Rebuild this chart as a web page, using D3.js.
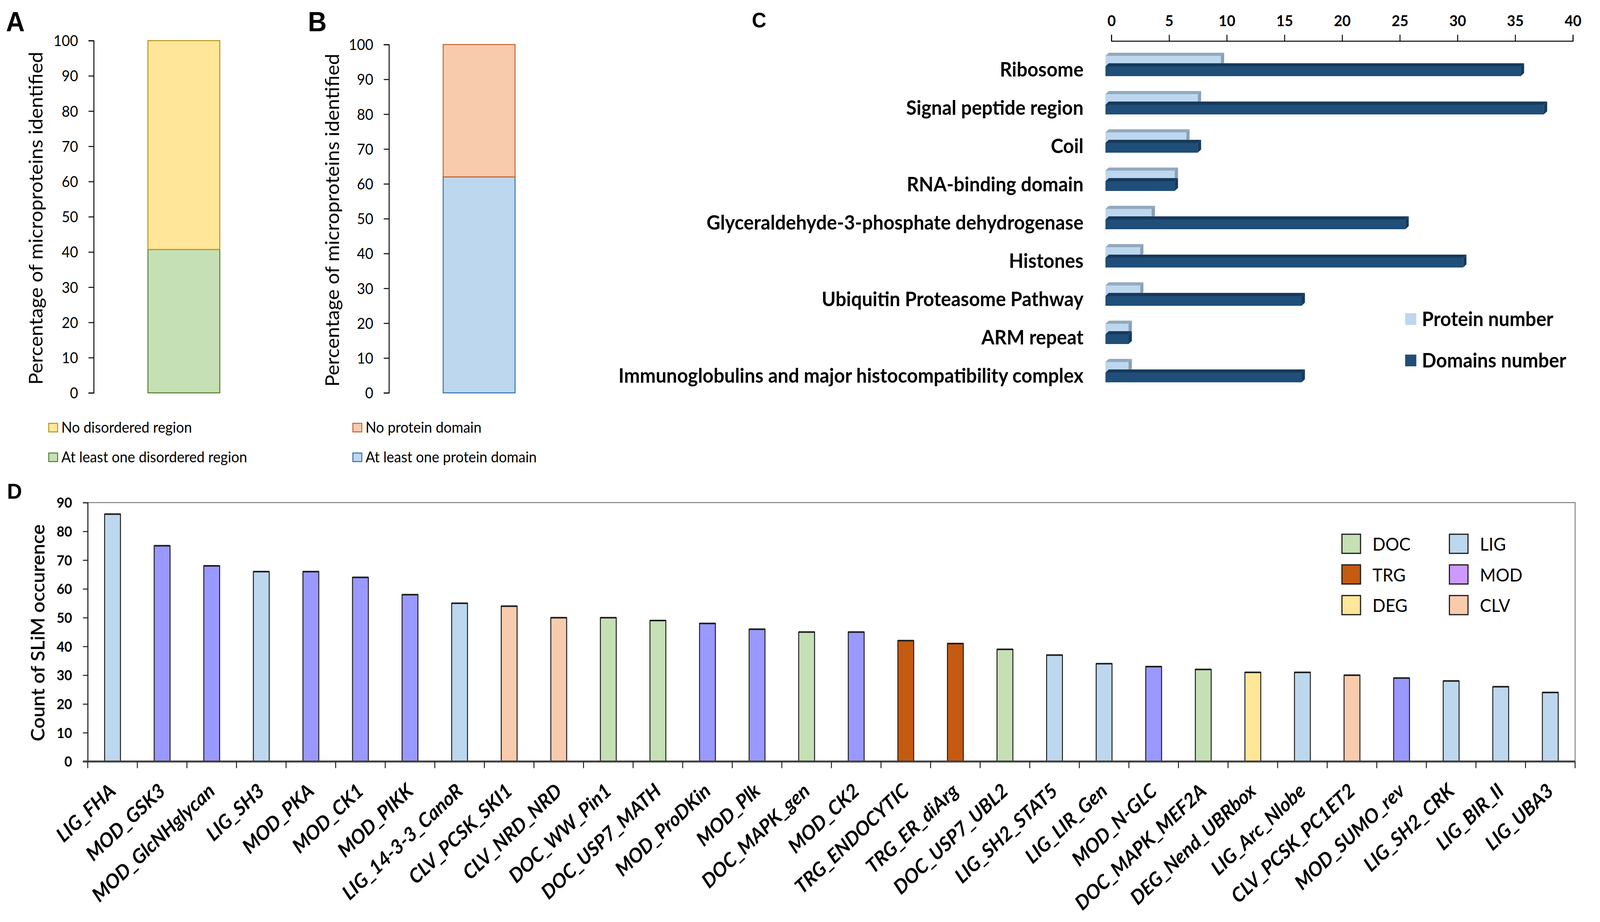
<!DOCTYPE html>
<html lang="en">
<head>
    <meta charset="UTF-8">
    <title>Microprotein features</title>
    <script src="https://d3js.org/d3.v7.min.js"></script>
    <style>
        html, body { margin: 0; background: #fff; overflow: hidden; }
        svg { display: block; width: 100vw; height: 100vh; }
        text { font-family: Lato, "Open Sans", sans-serif; fill: #000; }
        .panel-letter { font-family: "Liberation Sans", Arial, sans-serif; font-weight: bold; }
    </style>
</head>
<body>
    <svg></svg>
    <script>
        // ---- data ----
        // panel A: disordered regions (%)
        const disorderKeys = ["At least one disordered region", "No disordered region"];
        const disorderValues = [40.7, 59.3];
        // panel B: protein domains (%)
        const domainKeys = ["At least one protein domain", "No protein domain"];
        const domainValues = [62, 38];
        // panel C: domain families
        const familyNames = ["Ribosome", "Signal peptide region", "Coil", "RNA-binding domain",
            "Glyceraldehyde-3-phosphate dehydrogenase", "Histones", "Ubiquitin Proteasome Pathway",
            "ARM repeat", "Immunoglobulins and major histocompatibility complex"];
        const proteinNumber = [10, 8, 7, 6, 4, 3, 3, 2, 2];
        const domainsNumber = [36, 38, 8, 6, 26, 31, 17, 2, 17];
        const cTicks = [0, 5, 10, 15, 20, 25, 30, 35, 40];
        // panel D: SLiM occurrence
        const slimNames = ["LIG_FHA", "MOD_GSK3", "MOD_GlcNHglycan", "LIG_SH3", "MOD_PKA", "MOD_CK1",
            "MOD_PIKK", "LIG_14-3-3_CanoR", "CLV_PCSK_SKI1", "CLV_NRD_NRD", "DOC_WW_Pin1", "DOC_USP7_MATH",
            "MOD_ProDKin", "MOD_Plk", "DOC_MAPK_gen", "MOD_CK2", "TRG_ENDOCYTIC", "TRG_ER_diArg",
            "DOC_USP7_UBL2", "LIG_SH2_STAT5", "LIG_LIR_Gen", "MOD_N-GLC", "DOC_MAPK_MEF2A",
            "DEG_Nend_UBRbox", "LIG_Arc_Nlobe", "CLV_PCSK_PC1ET2", "MOD_SUMO_rev", "LIG_SH2_CRK",
            "LIG_BIR_II", "LIG_UBA3"];
        const slimCounts = [86, 75, 68, 66, 66, 64, 58, 55, 54, 50, 50, 49, 48, 46, 45, 45, 42, 41,
            39, 37, 34, 33, 32, 31, 31, 30, 29, 28, 26, 24];
        const dTicks = [0, 10, 20, 30, 40, 50, 60, 70, 80, 90];

        const W = 4303, H = 2361;
        // the window may be narrower than the figure, so the drawing is fitted to it
        const svg = d3.select("svg")
            .attr("viewBox", `0 0 ${W} ${H}`)
            .attr("preserveAspectRatio", "none");

        // panel letters
        const letters = [["A", 16, 80, 70], ["B", 828, 80, 70], ["C", 2022, 70, 54], ["D", 19, 1277, 56]];
        svg.selectAll("text.panel-letter").data(letters).join("text")
            .attr("class", "panel-letter")
            .attr("x", d => d[1]).attr("y", d => d[2])
            .style("font-size", d => d[3] + "px")
            .text(d => d[0]);

        // ---- stacked percentage bars (A and B) ----
        function stackPanel(opt) {
            const g = svg.append("g");
            const y = d3.scaleLinear().domain([0, 100]).range([1006, opt.top]);
            const x = d3.scaleBand().domain(["all"]).range([opt.axisX, opt.axisX + 485]).padding(0.43);

            const row = {};
            opt.keys.forEach((k, i) => row[k] = opt.values[i]);
            const series = d3.stack().keys(opt.keys)([row]);

            g.selectAll("rect.seg").data(series).join("rect")
                .attr("x", x("all"))
                .attr("width", x.bandwidth())
                .attr("y", d => y(d[0][1]))
                .attr("height", d => y(d[0][0]) - y(d[0][1]))
                .attr("fill", (d, i) => opt.fills[i])
                .attr("stroke", (d, i) => opt.strokes[i])
                .attr("stroke-width", 2.5);

            const axis = g.append("g")
                .attr("transform", `translate(${opt.axisX},0)`)
                .call(d3.axisLeft(y).tickValues(d3.range(0, 101, 10)).tickSize(14).tickPadding(28));
            axis.select(".domain").attr("stroke", "#000").attr("stroke-width", 2.5);
            axis.selectAll(".tick line").attr("stroke", "#000").attr("stroke-width", 2.5);
            axis.selectAll(".tick text")
                .style("font-family", "Lato, sans-serif")
                .style("font-size", "38px")
                .attr("dy", "0.36em");

            g.append("text")
                .attr("transform", `translate(${opt.titleX},${(y(0) + y(100)) / 2 + 4}) rotate(-90)`)
                .attr("text-anchor", "middle")
                .style("font-size", "51px")
                .text("Percentage of microproteins identified");

            // legend: top segment first
            const legendRows = [1, 0];
            const lg = g.selectAll("g.leg").data(legendRows).join("g")
                .attr("transform", (d, i) => `translate(${opt.legendX},${1095 + i * 76})`);
            lg.append("rect")
                .attr("x", 0).attr("y", -11).attr("width", 24).attr("height", 22)
                .attr("fill", d => opt.fills[d])
                .attr("stroke", d => opt.strokes[d])
                .attr("stroke-width", 2.5);
            lg.append("text")
                .attr("x", 34).attr("y", 13)
                .style("font-size", "38px")
                .text(d => opt.keys[d]);
        }

        stackPanel({
            keys: disorderKeys, values: disorderValues,
            fills: ["#c5e0b4", "#ffe699"], strokes: ["#4f7b2c", "#b8900f"],
            axisX: 252, top: 104, titleX: 115, legendX: 131
        });
        stackPanel({
            keys: domainKeys, values: domainValues,
            fills: ["#bdd7ee", "#f8cbad"], strokes: ["#2f6ea6", "#c1622c"],
            axisX: 1046, top: 114, titleX: 912, legendX: 949
        });

        // ---- panel C: 3D horizontal bars ----
        const gc = svg.append("g");
        const xc = d3.scaleLinear().domain([0, 40]).range([2989, 4230]);
        const yc = d3.scaleBand().domain(familyNames).range([121, 1003]);
        const shift = 16, depthX = 9, depthY = 8, barH = 25;

        const cAxis = gc.append("g")
            .attr("transform", "translate(0,105)")
            .call(d3.axisTop(xc).tickValues(cTicks).tickSize(16).tickPadding(22));
        cAxis.select(".domain").attr("stroke", "#000").attr("stroke-width", 2.5);
        cAxis.selectAll(".tick line").attr("stroke", "#000").attr("stroke-width", 2.5);
        cAxis.selectAll(".tick text")
            .style("font-family", "Lato, sans-serif")
            .style("font-weight", "bold")
            .style("font-size", "39px");

        function bar3d(g, v, top, colors) {
            const x0 = xc(0) - shift, x1 = xc(v) - shift;
            g.append("path")
                .attr("d", `M${x0},${top}L${x0 + depthX},${top - depthY}L${x1 + depthX},${top - depthY}L${x1},${top}Z`)
                .attr("fill", colors.top);
            g.append("path")
                .attr("d", `M${x1},${top}L${x1 + depthX},${top - depthY}L${x1 + depthX},${top + barH - depthY}L${x1},${top + barH}Z`)
                .attr("fill", colors.side);
            g.append("rect")
                .attr("x", x0).attr("y", top)
                .attr("width", x1 - x0).attr("height", barH)
                .attr("fill", colors.front);
        }
        const lightCols = { front: "#bdd7ee", top: "#94a9be", side: "#8aa0b6" };
        const darkCols = { front: "#1f4e79", top: "#17395b", side: "#163a5c" };

        familyNames.forEach((name, i) => {
            const row = gc.append("g");
            bar3d(row, proteinNumber[i], yc(name) + 22, lightCols);
            bar3d(row, domainsNumber[i], yc(name) + 49, darkCols);
        });

        gc.selectAll("text.family").data(familyNames).join("text")
            .attr("class", "family")
            .attr("x", 2914)
            .attr("y", d => yc(d) + 57)
            .attr("dy", "0.35em")
            .attr("text-anchor", "end")
            .style("font-weight", "bold")
            .style("font-size", "51px")
            .text(d => d);

        const cLegend = [["Protein number", lightCols.front], ["Domains number", darkCols.front]];
        const cl = gc.selectAll("g.cleg").data(cLegend).join("g")
            .attr("transform", (d, i) => `translate(3779,${817 + i * 106})`);
        cl.append("rect").attr("x", 0).attr("y", -15).attr("width", 30).attr("height", 30)
            .attr("fill", d => d[1]);
        cl.append("text").attr("x", 45).attr("y", 18)
            .style("font-weight", "bold").style("font-size", "51px")
            .text(d => d[0]);

        // ---- panel D: SLiM counts ----
        const gd = svg.append("g");
        const xd = d3.scaleBand().domain(slimNames).range([236, 4236]).paddingInner(0.68).paddingOuter(0.34);
        const yd = d3.scaleLinear().domain([0, 90]).range([1950, 1287]);
        const barFill = { DOC: "#c5e0b4", LIG: "#bdd7ee", TRG: "#c55a11", MOD: "#9999ff", DEG: "#ffe699", CLV: "#f8cbad" };
        const legendFill = { DOC: "#c5e0b4", LIG: "#bdd7ee", TRG: "#c55a11", MOD: "#cc99ff", DEG: "#ffe699", CLV: "#f8cbad" };
        const classOf = name => name.split("_")[0];

        // plot frame
        gd.append("rect")
            .attr("x", xd.range()[0]).attr("y", yd(90))
            .attr("width", xd.range()[1] - xd.range()[0]).attr("height", yd(0) - yd(90))
            .attr("fill", "none").attr("stroke", "#7f7f7f").attr("stroke-width", 2.5);

        const bars = gd.selectAll("g.slim").data(slimNames).join("g").attr("class", "slim");
        bars.append("rect")
            .attr("x", d => xd(d))
            .attr("y", (d, i) => yd(slimCounts[i]))
            .attr("width", xd.bandwidth())
            .attr("height", (d, i) => yd(0) - yd(slimCounts[i]))
            .attr("fill", d => barFill[classOf(d)])
            .attr("stroke", "#1a1a1a").attr("stroke-width", 2.5);
        bars.append("line")
            .attr("x1", d => xd(d)).attr("x2", d => xd(d) + xd.bandwidth())
            .attr("y1", (d, i) => yd(slimCounts[i])).attr("y2", (d, i) => yd(slimCounts[i]))
            .attr("stroke", "#1a1a1a").attr("stroke-width", 4);

        const yAxisD = gd.append("g")
            .attr("transform", `translate(${xd.range()[0]},0)`)
            .call(d3.axisLeft(yd).tickValues(dTicks).tickSize(13).tickPadding(29));
        yAxisD.select(".domain").attr("stroke", "#1a1a1a").attr("stroke-width", 2.5);
        yAxisD.selectAll(".tick line").attr("stroke", "#1a1a1a").attr("stroke-width", 2.5);
        yAxisD.selectAll(".tick text")
            .style("font-family", "Lato, sans-serif")
            .style("font-weight", "bold")
            .style("font-size", "36px")
            .attr("dy", "0.36em");

        // x axis line with ticks at category boundaries
        gd.append("line")
            .attr("x1", xd.range()[0] - 13).attr("x2", xd.range()[1])
            .attr("y1", yd(0)).attr("y2", yd(0))
            .attr("stroke", "#404040").attr("stroke-width", 5);
        gd.selectAll("line.xtick").data(d3.range(slimNames.length + 1)).join("line")
            .attr("class", "xtick")
            .attr("x1", i => xd.range()[0] + i * xd.step()).attr("x2", i => xd.range()[0] + i * xd.step())
            .attr("y1", yd(0)).attr("y2", yd(0) + 17)
            .attr("stroke", "#1a1a1a").attr("stroke-width", 2.5);

        gd.selectAll("text.slim-label").data(slimNames).join("text")
            .attr("class", "slim-label")
            .attr("transform", d => `translate(${xd(d) + xd.bandwidth() / 2 + 12},${yd(0) + 80}) rotate(-42)`)
            .attr("text-anchor", "end")
            .style("font-weight", "bold")
            .style("font-style", "italic")
            .style("font-size", "51px")
            .text(d => d);

        gd.append("text")
            .attr("transform", `translate(120,${(yd(0) + yd(90)) / 2 + 2}) rotate(-90)`)
            .attr("text-anchor", "middle")
            .style("font-size", "50px")
            .style("font-weight", "600")
            .text("Count of SLiM occurence");

        // legend: two columns of three
        const legendCols = [["DOC", "TRG", "DEG"], ["LIG", "MOD", "CLV"]];
        legendCols.forEach((col, c) => {
            const lg = gd.selectAll(`g.dleg${c}`).data(col).join("g")
                .attr("transform", (d, r) => `translate(${3609 + c * 289},${1368 + r * 78.5})`);
            lg.append("rect").attr("width", 50).attr("height", 49)
                .attr("fill", d => legendFill[d])
                .attr("stroke", "#1a1a1a").attr("stroke-width", 3);
            lg.append("text").attr("x", 82).attr("y", 42)
                .style("font-size", "46px")
                .text(d => d);
        });
    </script>
</body>
</html>
